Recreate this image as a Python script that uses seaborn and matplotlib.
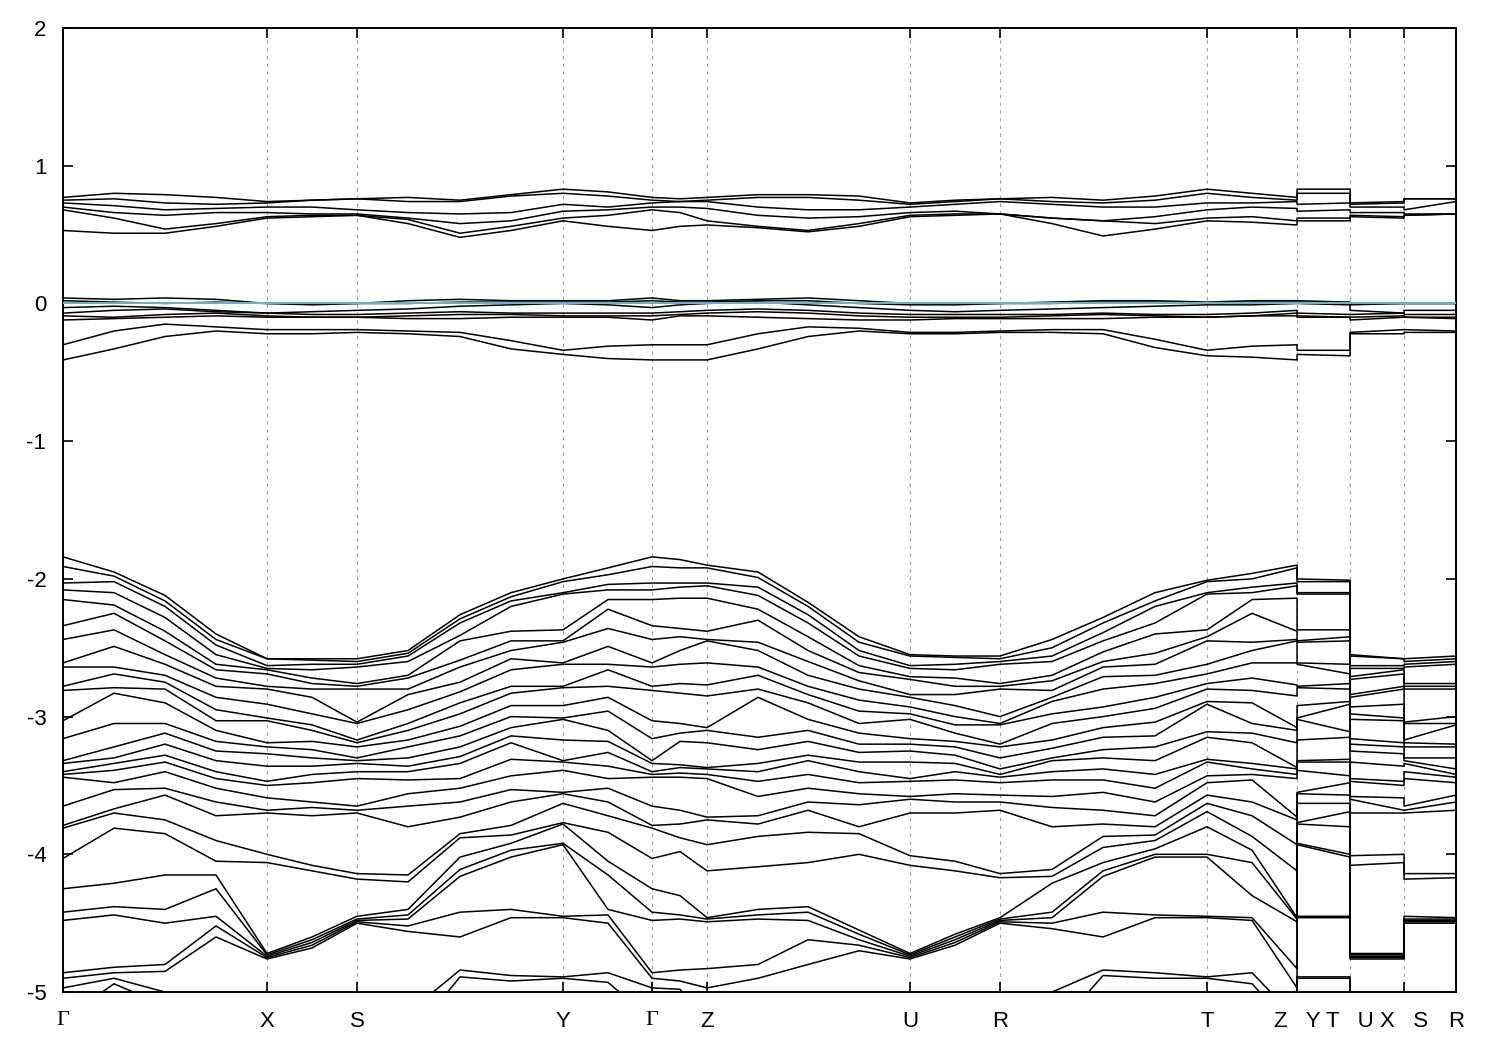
import matplotlib
matplotlib.use("Agg")
import matplotlib.pyplot as plt
import numpy as np
import pandas as pd
import seaborn as sns

# band energies (eV) read at sampled k-points; each list: upper group,
# bands around the Fermi level, lower group
e_gamma = [0.77, 0.75, 0.73, 0.70, 0.68, 0.53,
           0.04, 0.02, -0.03, -0.07, -0.09, -0.12, -0.30, -0.41,
           -1.84, -1.91, -2.03, -2.08, -2.15, -2.34, -2.44, -2.61, -2.64, -2.78,
           -2.81, -3.03, -3.16, -3.32, -3.34, -3.40, -3.42, -3.44, -3.65, -3.79,
           -3.81, -4.03, -4.25, -4.42, -4.48, -4.86, -4.90, -4.97, -5.20, -5.30]
e_gx1 = [0.80, 0.76, 0.71, 0.66, 0.62, 0.51,
         0.03, 0.01, -0.02, -0.05, -0.10, -0.11, -0.20, -0.33,
         -1.95, -1.98, -2.02, -2.10, -2.19, -2.25, -2.37, -2.49, -2.64, -2.69,
         -2.79, -2.83, -3.05, -3.22, -3.30, -3.34, -3.39, -3.48, -3.53, -3.67,
         -3.70, -3.81, -4.21, -4.38, -4.44, -4.82, -4.86, -4.90, -4.94, -5.25]
e_gx2 = [0.79, 0.73, 0.68, 0.64, 0.54, 0.51,
         0.04, 0.00, -0.03, -0.04, -0.08, -0.10, -0.15, -0.24,
         -2.12, -2.16, -2.20, -2.28, -2.38, -2.45, -2.55, -2.62, -2.70, -2.75,
         -2.80, -2.90, -3.05, -3.12, -3.20, -3.28, -3.33, -3.40, -3.52, -3.57,
         -3.75, -3.85, -4.15, -4.40, -4.50, -4.80, -4.85, -5.00, -5.10, -5.30]
e_gx3 = [0.77, 0.72, 0.69, 0.66, 0.58, 0.56,
         0.03, 0.01, -0.05, -0.06, -0.07, -0.09, -0.17, -0.20,
         -2.40, -2.44, -2.48, -2.55, -2.62, -2.66, -2.72, -2.78, -2.86, -2.95,
         -3.03, -3.10, -3.18, -3.25, -3.32, -3.40, -3.45, -3.52, -3.62, -3.72,
         -3.90, -4.05, -4.15, -4.25, -4.45, -4.52, -4.60, -5.05, -5.20, -5.40]
e_x = [0.74, 0.73, 0.70, 0.66, 0.63, 0.62,
       0.00, 0.00, -0.07, -0.07, -0.09, -0.10, -0.19, -0.22,
       -2.58, -2.58, -2.63, -2.65, -2.66, -2.69, -2.78, -2.80, -2.91, -3.01,
       -3.03, -3.19, -3.22, -3.27, -3.36, -3.47, -3.50, -3.59, -3.68, -3.70,
       -4.00, -4.06, -4.72, -4.73, -4.74, -4.75, -4.76, -5.30, -5.40, -5.50]
e_xs1 = [0.75, 0.75, 0.70, 0.65, 0.64, 0.63,
         0.00, -0.01, -0.06, -0.08, -0.10, -0.10, -0.19, -0.22,
         -2.58, -2.59, -2.62, -2.66, -2.72, -2.76, -2.80, -2.86, -2.98, -3.06,
         -3.10, -3.18, -3.24, -3.30, -3.36, -3.42, -3.48, -3.62, -3.66, -3.72,
         -4.08, -4.12, -4.60, -4.62, -4.64, -4.66, -4.68, -5.30, -5.45, -5.55]
e_s = [0.76, 0.76, 0.68, 0.65, 0.64, 0.64,
       0.00, 0.00, -0.05, -0.08, -0.10, -0.10, -0.19, -0.21,
       -2.58, -2.60, -2.62, -2.64, -2.76, -2.78, -2.80, -3.04, -3.05, -3.17,
       -3.19, -3.22, -3.30, -3.32, -3.34, -3.40, -3.45, -3.65, -3.68, -3.70,
       -4.14, -4.18, -4.45, -4.47, -4.48, -4.49, -4.50, -5.30, -5.50, -5.60]
e_sy1 = [0.77, 0.74, 0.66, 0.62, 0.61, 0.58,
         0.02, 0.00, -0.04, -0.07, -0.09, -0.11, -0.20, -0.22,
         -2.52, -2.54, -2.56, -2.60, -2.70, -2.72, -2.80, -2.84, -2.95, -3.05,
         -3.10, -3.17, -3.22, -3.30, -3.36, -3.40, -3.46, -3.56, -3.65, -3.80,
         -4.15, -4.20, -4.40, -4.44, -4.47, -4.52, -4.56, -5.15, -5.35, -5.50]
e_sy2 = [0.75, 0.74, 0.65, 0.58, 0.51, 0.48,
         0.03, 0.01, -0.02, -0.06, -0.08, -0.11, -0.21, -0.24,
         -2.26, -2.29, -2.32, -2.41, -2.45, -2.59, -2.64, -2.75, -2.82, -2.90,
         -2.98, -3.07, -3.14, -3.22, -3.29, -3.34, -3.45, -3.52, -3.62, -3.73,
         -3.85, -3.88, -4.02, -4.11, -4.16, -4.42, -4.60, -4.84, -4.89, -5.40]
e_sy3 = [0.79, 0.78, 0.66, 0.60, 0.56, 0.53,
         0.02, 0.01, -0.01, -0.07, -0.08, -0.10, -0.27, -0.33,
         -2.10, -2.13, -2.16, -2.20, -2.38, -2.45, -2.52, -2.58, -2.66, -2.78,
         -2.83, -2.92, -3.00, -3.08, -3.14, -3.19, -3.31, -3.43, -3.53, -3.62,
         -3.79, -3.86, -3.92, -3.97, -4.02, -4.40, -4.46, -4.88, -4.92, -5.30]
e_y = [0.83, 0.80, 0.72, 0.67, 0.62, 0.60,
       0.02, 0.01, 0.00, -0.07, -0.09, -0.10, -0.34, -0.37,
       -2.00, -2.02, -2.10, -2.11, -2.37, -2.45, -2.46, -2.61, -2.62, -2.78,
       -2.79, -2.92, -3.01, -3.02, -3.17, -3.32, -3.33, -3.39, -3.55, -3.56,
       -3.63, -3.77, -3.78, -3.92, -3.93, -4.45, -4.46, -4.89, -4.90, -5.30]
e_yg1 = [0.81, 0.78, 0.70, 0.68, 0.64, 0.56,
         0.02, 0.01, -0.01, -0.07, -0.09, -0.10, -0.31, -0.40,
         -1.92, -1.97, -2.04, -2.08, -2.15, -2.22, -2.36, -2.49, -2.62, -2.66,
         -2.78, -2.86, -2.96, -3.10, -3.18, -3.26, -3.36, -3.45, -3.52, -3.62,
         -3.72, -3.84, -4.05, -4.15, -4.40, -4.44, -4.50, -4.86, -4.93, -5.30]
e_gz1 = [0.76, 0.74, 0.74, 0.70, 0.66, 0.56,
         0.02, 0.01, -0.01, -0.06, -0.08, -0.09, -0.30, -0.41,
         -1.86, -1.92, -2.03, -2.06, -2.14, -2.36, -2.42, -2.52, -2.62, -2.76,
         -2.83, -3.05, -3.12, -3.18, -3.35, -3.37, -3.41, -3.44, -3.68, -3.78,
         -3.88, -3.98, -4.30, -4.44, -4.47, -4.84, -4.92, -4.98, -5.20, -5.30]
e_z = [0.77, 0.75, 0.74, 0.69, 0.60, 0.57,
       0.02, 0.01, 0.00, -0.05, -0.07, -0.09, -0.30, -0.41,
       -1.90, -1.92, -2.03, -2.05, -2.14, -2.38, -2.44, -2.45, -2.61, -2.77,
       -2.85, -3.08, -3.10, -3.19, -3.37, -3.38, -3.42, -3.45, -3.73, -3.75,
       -3.93, -4.12, -4.46, -4.47, -4.49, -4.83, -4.97, -5.20, -5.30, -5.40]
e_zu1 = [0.79, 0.77, 0.70, 0.64, 0.56, 0.55,
         0.03, 0.02, 0.01, -0.04, -0.06, -0.10, -0.22, -0.33,
         -1.95, -1.99, -2.06, -2.12, -2.22, -2.30, -2.46, -2.52, -2.64, -2.70,
         -2.80, -2.86, -3.15, -3.24, -3.34, -3.40, -3.47, -3.58, -3.72, -3.78,
         -3.87, -4.09, -4.40, -4.44, -4.47, -4.80, -4.90, -5.15, -5.30, -5.40]
e_zu2 = [0.79, 0.77, 0.68, 0.62, 0.53, 0.52,
         0.04, 0.02, -0.01, -0.05, -0.07, -0.11, -0.17, -0.24,
         -2.17, -2.20, -2.26, -2.32, -2.42, -2.52, -2.60, -2.70, -2.78, -2.84,
         -2.90, -3.02, -3.10, -3.18, -3.28, -3.32, -3.42, -3.52, -3.62, -3.68,
         -3.84, -4.06, -4.38, -4.42, -4.48, -4.62, -4.80, -5.10, -5.30, -5.40]
e_zu3 = [0.78, 0.75, 0.68, 0.63, 0.58, 0.56,
         0.02, 0.00, -0.03, -0.07, -0.09, -0.12, -0.18, -0.20,
         -2.42, -2.46, -2.52, -2.56, -2.63, -2.68, -2.74, -2.80, -2.88, -2.96,
         -3.05, -3.12, -3.20, -3.26, -3.33, -3.40, -3.48, -3.56, -3.64, -3.80,
         -3.85, -4.00, -4.55, -4.58, -4.62, -4.66, -4.70, -5.10, -5.30, -5.40]
e_u = [0.73, 0.72, 0.70, 0.66, 0.64, 0.63,
       0.00, -0.01, -0.05, -0.08, -0.10, -0.12, -0.21, -0.22,
       -2.55, -2.56, -2.63, -2.65, -2.71, -2.73, -2.84, -2.86, -2.93, -2.98,
       -3.02, -3.16, -3.20, -3.25, -3.33, -3.45, -3.47, -3.58, -3.60, -3.70,
       -4.01, -4.08, -4.72, -4.73, -4.74, -4.75, -4.76, -5.30, -5.40, -5.50]
e_ur1 = [0.75, 0.74, 0.72, 0.67, 0.65, 0.64,
         0.00, -0.01, -0.06, -0.08, -0.10, -0.11, -0.21, -0.22,
         -2.56, -2.57, -2.62, -2.66, -2.72, -2.78, -2.84, -2.92, -3.00, -3.06,
         -3.12, -3.18, -3.22, -3.28, -3.34, -3.40, -3.46, -3.56, -3.62, -3.70,
         -4.05, -4.12, -4.58, -4.60, -4.62, -4.64, -4.66, -5.30, -5.45, -5.55]
e_r = [0.76, 0.76, 0.74, 0.65, 0.65, 0.65,
       0.00, 0.00, -0.05, -0.08, -0.10, -0.11, -0.20, -0.21,
       -2.56, -2.58, -2.60, -2.62, -2.76, -2.78, -2.80, -3.00, -3.05, -3.06,
       -3.20, -3.22, -3.30, -3.38, -3.42, -3.44, -3.48, -3.57, -3.62, -3.68,
       -4.14, -4.17, -4.46, -4.47, -4.48, -4.49, -4.50, -5.30, -5.50, -5.60]
e_rt1 = [0.77, 0.74, 0.72, 0.62, 0.62, 0.58,
         0.01, 0.00, -0.04, -0.08, -0.09, -0.11, -0.19, -0.21,
         -2.44, -2.50, -2.56, -2.60, -2.70, -2.74, -2.81, -2.86, -2.89, -2.98,
         -3.05, -3.17, -3.23, -3.30, -3.32, -3.40, -3.46, -3.58, -3.66, -3.80,
         -4.11, -4.16, -4.21, -4.42, -4.46, -4.50, -4.54, -5.00, -5.30, -5.50]
e_rt2 = [0.75, 0.73, 0.70, 0.60, 0.60, 0.49,
         0.02, 0.01, -0.03, -0.07, -0.08, -0.11, -0.19, -0.22,
         -2.28, -2.32, -2.39, -2.45, -2.53, -2.60, -2.64, -2.71, -2.80, -2.93,
         -3.00, -3.08, -3.15, -3.24, -3.30, -3.38, -3.46, -3.55, -3.68, -3.78,
         -3.87, -3.95, -4.06, -4.12, -4.16, -4.42, -4.60, -4.84, -4.88, -5.30]
e_rt3 = [0.78, 0.75, 0.70, 0.63, 0.58, 0.54,
         0.02, 0.01, -0.02, -0.08, -0.09, -0.10, -0.26, -0.32,
         -2.10, -2.16, -2.20, -2.32, -2.40, -2.54, -2.62, -2.70, -2.76, -2.86,
         -2.94, -3.04, -3.14, -3.22, -3.32, -3.42, -3.52, -3.62, -3.72, -3.80,
         -3.86, -3.90, -3.96, -4.00, -4.02, -4.44, -4.46, -4.86, -4.90, -5.30]
e_t = [0.83, 0.80, 0.73, 0.68, 0.62, 0.60,
       0.01, 0.00, -0.01, -0.08, -0.10, -0.10, -0.34, -0.38,
       -2.01, -2.02, -2.10, -2.11, -2.37, -2.42, -2.45, -2.62, -2.69, -2.76,
       -2.80, -2.89, -2.91, -3.11, -3.15, -3.31, -3.33, -3.43, -3.48, -3.57,
       -3.63, -3.69, -3.80, -4.00, -4.02, -4.45, -4.46, -4.89, -4.90, -5.30]
e_tz1 = [0.80, 0.77, 0.73, 0.70, 0.63, 0.59,
         0.02, 0.01, -0.01, -0.07, -0.09, -0.09, -0.31, -0.39,
         -1.96, -2.00, -2.06, -2.10, -2.15, -2.25, -2.46, -2.52, -2.61, -2.72,
         -2.81, -2.90, -3.05, -3.12, -3.19, -3.34, -3.38, -3.42, -3.46, -3.62,
         -3.72, -3.87, -3.97, -4.06, -4.30, -4.46, -4.48, -4.86, -4.94, -5.30]

# path Γ-X-S-Y-Γ-Z-U-R-T-Z|Y-T|U-X|S-R
k_path = [0.00, 0.51, 1.02, 1.53, 2.04, 2.49, 2.94, 3.45, 3.97, 4.48, 5.00,
          5.45, 5.89, 6.17, 6.44, 6.95, 7.45, 7.96, 8.47, 8.92, 9.37, 9.89,
          10.40, 10.92, 11.44, 11.89, 12.34, 12.34, 12.87, 12.87, 13.41, 13.41,
          13.93]
path_energies = [e_gamma, e_gx1, e_gx2, e_gx3, e_x, e_xs1, e_s, e_sy1, e_sy2,
                 e_sy3, e_y, e_yg1, e_gamma, e_gz1, e_z, e_zu1, e_zu2, e_zu3,
                 e_u, e_ur1, e_r, e_rt1, e_rt2, e_rt3, e_t, e_tz1, e_z, e_y,
                 e_t, e_u, e_x, e_s, e_r]

hs_pos = [0.00, 2.04, 2.94, 5.00, 5.89, 6.44, 8.47, 9.37, 11.44, 12.34,
          12.87, 13.41, 13.93]
hs_labels = ["Γ", "X", "S", "Y", "Γ", "Z", "U", "R", "T", "Z   Y", "T   U",
             "X   S", "R"]
y_ticks = [2, 1, 0, -1, -2, -3, -4, -5]

rows = []
for k, energies in zip(k_path, path_energies):
    for band, e in enumerate(sorted(energies, reverse=True)):
        rows.append({"k": k, "energy": e, "band": band})
df = pd.DataFrame(rows)

sns.set_style("ticks")
plt.rcParams["font.family"] = ["Liberation Sans", "DejaVu Sans"]

fig = plt.figure(figsize=(15, 10.5), dpi=100)
ax = fig.add_axes([0.042, 0.0552, 0.9287, 0.9181])

sns.lineplot(data=df, x="k", y="energy", units="band", estimator=None,
             sort=False, color="black", linewidth=1.1, ax=ax, legend=False)
ax.axhline(0, color="#56b4e9", linewidth=1.5, zorder=4)

ax.set_xlim(hs_pos[0], hs_pos[-1])
ax.set_ylim(-5, 2)
ax.set_xticks(hs_pos)
ax.set_xticklabels(hs_labels)
ax.set_yticks(y_ticks)
ax.set_yticklabels([str(t) for t in y_ticks])
ax.set_xlabel("")
ax.set_ylabel("")

# Gamma is drawn in a serif face, as in the original
for lab in ax.get_xticklabels():
    if lab.get_text() == "Γ":
        lab.set_fontfamily(["Liberation Serif", "DejaVu Serif"])

ax.xaxis.grid(True, color="#a0a0a0", linestyle=(0, (3, 4)), linewidth=0.8)
ax.yaxis.grid(False)
ax.tick_params(axis="both", direction="in", length=7, width=1.2,
               top=True, right=True, labelsize=16, colors="black")
ax.tick_params(axis="x", pad=14)
ax.tick_params(axis="y", pad=12)
for sp in ax.spines.values():
    sp.set_visible(True)
    sp.set_linewidth(1.4)
    sp.set_color("black")

fig.savefig("out.png", dpi=100)
